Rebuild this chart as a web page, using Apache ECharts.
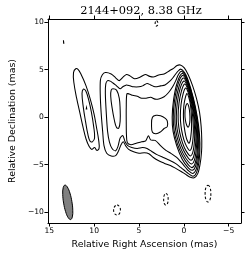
<!DOCTYPE html>
<html><head><meta charset="utf-8">
<script src="https://cdn.jsdelivr.net/npm/echarts@6/dist/echarts.min.js"></script>
<style>html,body{margin:0;padding:0;background:#fff}#c{width:250px;height:255px}</style>
</head><body><div id="c"></div>
<script>
// ---- text / ticks ----
const chartTitle = '2144+092, 8.38 GHz';
const xName = 'Relative Right Ascension (mas)';
const yName = 'Relative Declination (mas)';
const xTicks = [15, 10, 5, 0, -5];
const yTicks = [10, 5, 0, -5, -10];
const xRange = [-6.37, 15.15];
const yRange = [-11.16, 10.35];

// ---- contours, [RA, Dec] in mas ----
const compALevel1 = [[12.05,5.1],[12.3,4.7],[12.25,3.6],[11.95,2.0],[11.6,0.5],[11.25,-1.0],[10.9,-2.3],[10.55,-3.1],[10.25,-3.4],[9.95,-3.2],[9.7,-3.5],[9.45,-3.3],[9.5,-2.4],[9.75,-1.0],[10.0,0.3],[10.4,1.8],[10.9,3.3],[11.5,4.6],[11.8,5.05]];
const compALevel2 = [[11.2,2.95],[11.35,2.5],[11.2,1.0],[10.95,-0.5],[10.7,-1.8],[10.45,-2.55],[10.2,-2.6],[9.95,-2.2],[10.05,-1.0],[10.3,0.5],[10.6,1.8],[10.95,2.8]];
const compADot = [[10.85,1.0],[10.82,0.85],[10.88,0.85]];
const smallPos = [[13.42,8.1],[13.38,7.8],[13.4,7.8]];

const jetLevel1 = [[8.75,4.7],[9.1,4.45],[9.3,3.9],[9.32,2.5],[9.22,0.5],[9.05,-1.5],[8.9,-3.0],[8.6,-3.8],[8.1,-4.1],[7.6,-4.05],[7.3,-3.6],[7.0,-2.9],[6.75,-2.6],[6.5,-3.0],[6.15,-3.4],[5.6,-3.65],[5.0,-3.8],[4.4,-3.75],[3.9,-3.85],[3.4,-4.25],[2.8,-4.6],[2.2,-4.85],[1.5,-5.1],[0.9,-5.4],[0.35,-5.7],[-0.15,-6.0],[-0.65,-6.3],[-1.15,-6.4],[-1.55,-5.95],[-1.8,-5.0],[-1.97,-3.7],[-2.0,-2.5],[-1.93,-1.0],[-1.75,0.5],[-1.4,2.0],[-0.98,3.3],[-0.5,4.45],[-0.05,5.2],[0.4,5.5],[0.75,5.45],[1.15,5.15],[1.6,4.9],[2.2,4.55],[2.8,4.45],[3.3,4.25],[3.8,4.3],[4.3,4.5],[4.9,4.2],[5.5,4.05],[6.0,4.35],[6.4,4.5],[6.8,4.2],[7.2,3.85],[7.6,4.15],[8.1,4.55]];
const jetLevel2 = [[8.5,3.85],[8.7,3.5],[8.75,2.5],[8.65,0.5],[8.5,-1.5],[8.3,-2.6],[8.0,-3.3],[7.6,-3.55],[7.35,-3.1],[7.1,-2.2],[6.8,-1.95],[6.55,-2.6],[6.25,-3.0],[5.8,-3.2],[5.2,-3.3],[4.6,-3.2],[4.1,-3.3],[3.6,-3.6],[3.0,-3.95],[2.3,-4.25],[1.6,-4.55],[0.9,-4.9],[0.35,-5.3],[-0.05,-5.6],[-0.51,-5.95],[-1.03,-6.23],[-1.43,-5.79],[-1.72,-4.44],[-1.79,-2.76],[-1.64,-0.89],[-1.28,1.11],[-0.82,2.86],[-0.25,4.42],[0.32,5.06],[0.7,4.8],[1.1,4.3],[1.5,3.85],[2.1,3.4],[2.6,3.3],[3.2,3.2],[3.7,3.4],[4.1,3.55],[4.6,3.3],[5.0,3.2],[5.6,3.2],[6.0,3.3],[6.4,3.4],[6.8,3.2],[7.1,3.0],[7.5,3.3],[7.9,3.6],[8.2,3.8]];
const knotBLevel3 = [[7.9,3.0],[7.5,2.85],[7.2,2.0],[7.1,0.8],[7.1,-0.4],[7.25,-1.15],[7.5,-1.1],[7.75,-0.3],[8.0,1.0],[8.15,2.2],[8.1,2.85]];
const jetLevel3 = [[6.35,2.45],[6.42,1.0],[6.42,-0.5],[6.4,-1.8],[6.3,-2.7],[5.9,-2.9],[5.3,-2.75],[4.7,-2.6],[4.25,-2.5],[3.95,-1.95],[3.7,-2.4],[3.2,-2.45],[2.6,-3.0],[2.0,-3.5],[1.4,-3.85],[0.8,-4.25],[0.3,-4.75],[-0.1,-5.2],[-0.51,-5.65],[-0.99,-5.93],[-1.37,-5.5],[-1.64,-4.22],[-1.71,-2.63],[-1.57,-0.84],[-1.24,1.06],[-0.81,2.73],[-0.27,4.21],[0.26,4.83],[0.6,4.5],[0.9,3.85],[1.25,3.2],[1.7,2.6],[2.2,2.15],[2.7,1.95],[3.2,1.9],[3.7,2.1],[4.2,2.0],[4.7,2.0],[5.2,2.2],[5.7,2.3],[6.1,2.45]];
const knotCLevel4 = [[3.5,0.0],[3.1,0.2],[2.6,0.15],[2.1,-0.1],[1.85,-0.4],[1.85,-1.0],[2.2,-1.2],[2.6,-1.55],[3.1,-1.75],[3.5,-1.6],[3.6,-0.8]];
const coreL4 = [[0.2,4.6],[-0.3,4.0],[-0.8,2.6],[-1.2,1.0],[-1.5,-0.8],[-1.62,-2.5],[-1.55,-4.0],[-1.3,-5.2],[-0.95,-5.6],[-0.5,-5.35],[0.2,-4.4],[0.8,-3.0],[1.2,-1.5],[1.3,0.0],[1.15,1.8],[0.75,3.6]];
const coreL5 = [[0.15,4.39],[-0.33,3.81],[-0.79,2.48],[-1.16,0.95],[-1.44,-0.76],[-1.54,-2.38],[-1.47,-3.8],[-1.24,-4.93],[-0.91,-5.32],[-0.5,-5.03],[0.15,-4.09],[0.71,-2.85],[1.08,-1.42],[1.18,0.02],[1.04,1.74],[0.66,3.44]];
const coreL6 = [[0.07,4.12],[-0.36,3.56],[-0.78,2.32],[-1.11,0.89],[-1.35,-0.71],[-1.44,-2.22],[-1.37,-3.54],[-1.16,-4.58],[-0.87,-4.94],[-0.49,-4.68],[0.09,-3.82],[0.59,-2.66],[0.92,-1.32],[1.01,0.05],[0.89,1.66],[0.54,3.23]];
const coreL7 = [[0.0,3.82],[-0.39,3.3],[-0.77,2.16],[-1.06,0.82],[-1.26,-0.65],[-1.34,-2.06],[-1.27,-3.26],[-1.08,-4.2],[-0.81,-4.55],[-0.48,-4.3],[0.02,-3.52],[0.46,-2.45],[0.76,-1.2],[0.84,0.07],[0.72,1.58],[0.42,3.01]];
const coreL8 = [[-0.09,3.49],[-0.43,2.99],[-0.76,1.96],[-1.0,0.74],[-1.16,-0.59],[-1.21,-1.86],[-1.14,-2.94],[-0.98,-3.77],[-0.75,-4.09],[-0.47,-3.87],[-0.05,-3.19],[0.31,-2.21],[0.56,-1.08],[0.64,0.11],[0.54,1.48],[0.27,2.75]];
const coreL9 = [[-0.2,3.07],[-0.48,2.61],[-0.74,1.72],[-0.92,0.64],[-1.03,-0.51],[-1.06,-1.62],[-0.99,-2.54],[-0.86,-3.23],[-0.68,-3.52],[-0.46,-3.33],[-0.15,-2.77],[0.13,-1.91],[0.32,-0.92],[0.39,0.15],[0.31,1.36],[0.09,2.43]];
const coreL10 = [[-0.35,2.5],[-0.55,2.1],[-0.72,1.4],[-0.82,0.5],[-0.86,-0.4],[-0.85,-1.3],[-0.78,-2.0],[-0.7,-2.5],[-0.58,-2.75],[-0.45,-2.6],[-0.28,-2.2],[-0.12,-1.5],[0.0,-0.7],[0.05,0.2],[0.0,1.2],[-0.15,2.0]];
const coreL11 = [[-0.38,1.45],[-0.55,1.1],[-0.66,0.4],[-0.68,-0.3],[-0.6,-0.85],[-0.48,-1.05],[-0.32,-0.85],[-0.17,-0.3],[-0.12,0.4],[-0.2,1.1]];

// negative (dashed) contours
const negTop = [[3.05,10.16],[2.94,10.08],[2.9,9.88],[2.94,9.68],[3.05,9.6],[3.16,9.68],[3.2,9.88],[3.16,10.08]];
const negA = [[7.45,-9.27],[7.18,-9.43],[7.07,-9.8],[7.18,-10.17],[7.45,-10.33],[7.72,-10.17],[7.83,-9.8],[7.72,-9.43]];
const negB = [[2.0,-8.04],[1.82,-8.22],[1.75,-8.66],[1.82,-9.1],[2.0,-9.28],[2.18,-9.1],[2.25,-8.66],[2.18,-8.22]];
const negC = [[-2.69,-7.17],[-2.92,-7.43],[-3.01,-8.06],[-2.92,-8.69],[-2.69,-8.95],[-2.46,-8.69],[-2.37,-8.06],[-2.46,-7.43]];

// restoring beam outline
const beam = [[13.26,-7.16],[13.45,-7.44],[13.5,-8.14],[13.4,-9.06],[13.18,-9.96],[12.89,-10.6],[12.62,-10.8],[12.43,-10.52],[12.38,-9.82],[12.48,-8.9],[12.7,-8.0],[12.99,-7.36]];

const contours = [
  {pts: compALevel1}, {pts: compALevel2}, {pts: compADot, smooth: 0}, {pts: smallPos, smooth: 0},
  {pts: jetLevel1, smooth: 0.3}, {pts: jetLevel2, smooth: 0.3}, {pts: knotBLevel3}, {pts: jetLevel3, smooth: 0.3}, {pts: knotCLevel4},
  {pts: coreL4}, {pts: coreL5}, {pts: coreL6}, {pts: coreL7}, {pts: coreL8}, {pts: coreL9}, {pts: coreL10}, {pts: coreL11},
  {pts: negTop, dash: true}, {pts: negA, dash: true}, {pts: negB, dash: true}, {pts: negC, dash: true},
  {pts: beam, fill: '#808080'}
];

const fmt = v => (v < 0 ? '\u2212' + Math.abs(v) : String(v));
const tickFont = {fontFamily: 'DejaVu Sans', fontSize: 7.6, color: '#000'};
const lineBlack = {color: '#000', width: 1};

function xAx(pos, main) {
  return {
    type: 'value', min: xRange[0], max: xRange[1], inverse: true, position: pos,
    name: main ? xName : '', nameLocation: 'middle', nameGap: 16,
    nameTextStyle: {fontFamily: 'DejaVu Sans', fontSize: 9.4, color: '#000'},
    axisLine: {show: true, onZero: false, lineStyle: lineBlack},
    axisTick: {show: true, inside: false, length: 3.5, customValues: xTicks, lineStyle: lineBlack},
    axisLabel: Object.assign({show: main, customValues: xTicks, formatter: fmt, margin: 4.5}, tickFont),
    splitLine: {show: false}
  };
}
function yAx(pos, main) {
  return {
    type: 'value', min: yRange[0], max: yRange[1], position: pos,
    name: main ? yName : '', nameLocation: 'middle', nameGap: 26,
    nameTextStyle: {fontFamily: 'DejaVu Sans', fontSize: 9.4, color: '#000'},
    axisLine: {show: true, onZero: false, lineStyle: lineBlack},
    axisTick: {show: true, inside: false, length: 3.5, customValues: yTicks, lineStyle: lineBlack},
    axisLabel: Object.assign({show: main, customValues: yTicks, formatter: fmt, margin: 4}, tickFont),
    splitLine: {show: false}
  };
}

const chart = echarts.init(document.getElementById('c'), null, {renderer: 'canvas'});
chart.setOption({
  animation: false,
  backgroundColor: '#fff',
  title: {text: chartTitle, left: 136, textAlign: 'center', top: 1,
    textStyle: {fontFamily: 'DejaVu Serif', fontSize: 11.4, fontWeight: 'normal', color: '#000'}},
  grid: {left: 37, right: 9, top: 19, bottom: 32},
  xAxis: [xAx('bottom', true), xAx('top', false)],
  yAxis: [yAx('left', true), yAx('right', false)],
  series: [{
    type: 'custom', coordinateSystem: 'cartesian2d', xAxisIndex: 0, yAxisIndex: 0, silent: true,
    data: contours.map((c, i) => [c.pts[0][0], c.pts[0][1], i]),
    renderItem: function (params, api) {
      const c = contours[params.dataIndex];
      const pts = c.pts.map(p => api.coord(p));
      return {
        type: 'polygon',
        shape: {points: pts, smooth: c.smooth === undefined ? 0.4 : c.smooth},
        style: {fill: c.fill || 'none', stroke: '#000', lineWidth: c.fill ? 1 : 1.05, lineDash: c.dash ? [2.5, 2] : null}
      };
    }
  }]
});
</script></body></html>
